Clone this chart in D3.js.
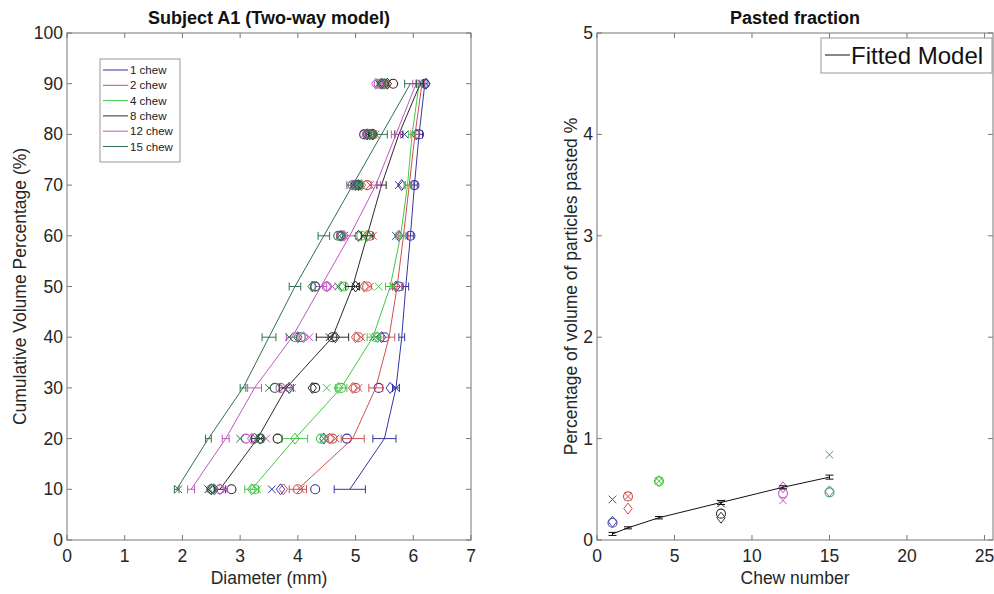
<!DOCTYPE html>
<html>
<head>
<meta charset="utf-8">
<script src="https://cdn.jsdelivr.net/npm/d3@7"></script>
<style>
  body { margin: 0; background: #fff; }
  svg { font-family: "Liberation Sans", Arial, sans-serif; }
</style>
</head>
<body>
<svg id="fig" width="994" height="594"></svg>
<script>
//------------------- data ----------------------------------------

var levels = [10, 20, 30, 40, 50, 60, 70, 80, 90];
var chewNames = ["1 chew", "2 chew", "4 chew", "8 chew", "12 chew", "15 chew"];
var chewColors = ["#3535a5", "#d05050", "#45c845", "#2a2a2a", "#c455c4", "#2f7050"];

// fitted diameters (mm) for each chew, one value per level
var model1 = [4.9, 5.5, 5.7, 5.8, 5.87, 5.95, 6.02, 6.1, 6.2];
var model2 = [4.0, 4.95, 5.35, 5.58, 5.72, 5.83, 5.93, 6.03, 6.15];
var model4 = [3.2, 3.95, 4.75, 5.3, 5.6, 5.78, 5.9, 5.98, 6.1];
var model8 = [2.65, 3.3, 3.8, 4.6, 4.95, 5.2, 5.45, 5.75, 6.12];
var model12 = [2.15, 2.75, 3.25, 3.9, 4.4, 4.9, 5.35, 5.7, 6.05];
var model15 = [1.9, 2.45, 3.05, 3.5, 3.95, 4.45, 4.95, 5.45, 5.95];

// half width of the error bars
var err1 = [0.27, 0.2, 0.06, 0.05, 0.05, 0.05, 0.05, 0.06, 0.04];
var err2 = [0.15, 0.2, 0.12, 0.1, 0.08, 0.08, 0.07, 0.07, 0.05];
var err4 = [0.12, 0.22, 0.1, 0.1, 0.08, 0.08, 0.06, 0.06, 0.05];
var err8 = [0.1, 0.1, 0.12, 0.28, 0.12, 0.1, 0.08, 0.07, 0.06];
var err12 = [0.06, 0.06, 0.12, 0.1, 0.1, 0.1, 0.08, 0.08, 0.06];
var err15 = [0.04, 0.05, 0.05, 0.12, 0.1, 0.1, 0.1, 0.1, 0.1];

// measured diameters, three markers (circle, cross, diamond)
var circ1 = [4.3, 4.85, 5.4, 5.5, 5.75, 5.95, 6.02, 6.1, 6.2];
var cross1 = [3.55, 4.45, 5.7, 5.35, 5.65, 5.7, 5.75, 5.85, 6.15];
var diam1 = [3.7, 4.45, 5.6, 5.45, 5.7, 5.75, 5.8, 6.05, 6.22];
var circ2 = [4.0, 4.6, 5.0, 5.05, 5.2, 5.25, 5.2, 5.3, 5.5];
var cross2 = [4.05, 4.65, 5.05, 5.1, 5.25, 5.3, 5.25, 5.35, 5.55];
var diam2 = [3.75, 4.55, 4.95, 5.0, 5.15, 5.2, 5.1, 5.25, 5.45];
var circ4 = [3.25, 4.4, 4.75, 5.35, 4.8, 5.1, 5.05, 5.2, 5.45];
var cross4 = [3.3, 4.45, 4.5, 5.3, 5.4, 5.15, 5.1, 5.25, 5.42];
var diam4 = [3.2, 3.95, 4.7, 5.38, 4.75, 5.2, 5.0, 5.2, 5.5];
var circ8 = [2.85, 3.65, 4.3, 4.6, 4.3, 4.75, 5.0, 5.15, 5.65];
var cross8 = [2.45, 3.35, 3.75, 4.55, 5.0, 4.8, 4.95, 5.2, 5.4];
var diam8 = [2.5, 3.35, 4.25, 4.65, 5.0, 5.05, 5.05, 5.3, 5.55];
var circ12 = [2.65, 3.1, 3.7, 3.95, 4.5, 4.75, 4.95, 5.2, 5.4];
var cross12 = [2.75, 3.45, 3.9, 4.2, 4.6, 4.8, 5.05, 5.15, 5.45];
var diam12 = [2.65, 3.2, 3.85, 4.1, 4.5, 4.8, 5.0, 5.2, 5.35];
var circ15 = [2.5, 3.35, 3.6, 4.05, 4.3, 4.7, 5.05, 5.25, 5.48];
var cross15 = [1.93, 3.0, 3.5, 3.85, 4.7, 4.72, 5.0, 5.3, 5.5];
var diam15 = [2.55, 3.25, 3.85, 4.0, 4.25, 4.75, 5.05, 5.2, 5.45];

// pasted fraction (%)
var chewNumbers = [1, 2, 4, 8, 12, 15];
var fitted = [0.06, 0.12, 0.22, 0.37, 0.52, 0.62];
var fittedErr = [0.015, 0.01, 0.012, 0.02, 0.015, 0.02];
var pastedCirc = [0.17, 0.43, 0.58, 0.26, 0.46, 0.47];
var pastedCross = [0.40, 0.43, 0.58, 0.36, 0.39, 0.84];
var pastedDiam = [0.18, 0.31, 0.58, 0.22, 0.52, 0.48];
var pastedColors = ["#4a4aa8", "#d05050", "#45c845", "#333333", "#c455c4", "#5a9a78"];

var xTicksLeft = [0, 1, 2, 3, 4, 5, 6, 7];
var yTicksLeft = [0, 10, 20, 30, 40, 50, 60, 70, 80, 90, 100];
var xTicksRight = [0, 5, 10, 15, 20, 25];
var yTicksRight = [0, 1, 2, 3, 4, 5];

var models = [model1, model2, model4, model8, model12, model15];
var errs = [err1, err2, err4, err8, err12, err15];
var circs = [circ1, circ2, circ4, circ8, circ12, circ15];
var crosses = [cross1, cross2, cross4, cross8, cross12, cross15];
var diams = [diam1, diam2, diam4, diam8, diam12, diam15];

//------------------- helpers ----------------------------------------

var svg = d3.select("#fig");

function marker(g, type, x, y, color) {
    if (type == "o") {
        g.append("circle").attr("cx", x).attr("cy", y).attr("r", 4.5)
            .attr("fill", "none").attr("stroke", color).attr("stroke-width", 1.1);
    } else if (type == "x") {
        var s = 3.8;
        g.append("path")
            .attr("d", "M" + (x - s) + "," + (y - s) + "L" + (x + s) + "," + (y + s) +
                "M" + (x - s) + "," + (y + s) + "L" + (x + s) + "," + (y - s))
            .attr("stroke", color).attr("stroke-width", 1).attr("fill", "none");
    } else {
        var d = 5.5, w = 4.2;
        g.append("path")
            .attr("d", "M" + x + "," + (y - d) + "L" + (x + w) + "," + y + "L" + x + "," + (y + d) + "L" + (x - w) + "," + y + "Z")
            .attr("stroke", color).attr("stroke-width", 1).attr("fill", "none");
    }
}

function drawFrame(x, y, xTicks, yTicks, xLabel, yLabel, title, yLabelX) {
    var g = svg.append("g");
    var x0 = x.range()[0], x1 = x.range()[1], y0 = y.range()[0], y1 = y.range()[1];
    var tl = 5;

    g.append("rect").attr("x", x0).attr("y", y1).attr("width", x1 - x0).attr("height", y0 - y1)
        .attr("fill", "none").attr("stroke", "#777").attr("stroke-width", 1);

    for (let t of xTicks) {
        let px = x(t);
        g.append("line").attr("x1", px).attr("x2", px).attr("y1", y0).attr("y2", y0 - tl).attr("stroke", "#777");
        g.append("line").attr("x1", px).attr("x2", px).attr("y1", y1).attr("y2", y1 + tl).attr("stroke", "#777");
        g.append("text").attr("x", px).attr("y", y0 + 22).attr("text-anchor", "middle")
            .attr("font-size", 17.5).attr("fill", "#262626").text(t);
    }
    for (let t of yTicks) {
        let py = y(t);
        g.append("line").attr("x1", x0).attr("x2", x0 + tl).attr("y1", py).attr("y2", py).attr("stroke", "#777");
        g.append("line").attr("x1", x1).attr("x2", x1 - tl).attr("y1", py).attr("y2", py).attr("stroke", "#777");
        g.append("text").attr("x", x0 - 4).attr("y", py + 6).attr("text-anchor", "end")
            .attr("font-size", 17.5).attr("fill", "#262626").text(t);
    }

    g.append("text").attr("x", (x0 + x1) / 2).attr("y", 584).attr("text-anchor", "middle")
        .attr("font-size", 17.5).attr("fill", "#262626").text(xLabel);
    g.append("text").attr("transform", "translate(" + yLabelX + "," + ((y0 + y1) / 2) + ") rotate(-90)")
        .attr("text-anchor", "middle").attr("font-size", 17.5).attr("fill", "#262626").text(yLabel);
    g.append("text").attr("x", (x0 + x1) / 2).attr("y", 24).attr("text-anchor", "middle")
        .attr("font-size", 18).attr("font-weight", "bold").attr("fill", "#111").text(title);
    return g;
}

//------------------- left plot : size distribution ----------------------------------------

var xL = d3.scaleLinear().domain([0, 7]).range([67, 471]);
var yL = d3.scaleLinear().domain([0, 100]).range([540, 33]);

var gL = drawFrame(xL, yL, xTicksLeft, yTicksLeft, "Diameter (mm)",
    "Cumulative Volume Percentage (%)", "Subject A1 (Two-way model)", 26);

var line = d3.line().x(d => xL(d[0])).y(d => yL(d[1]));

for (let c = 0; c < chewNames.length; c++) {
    let col = chewColors[c];
    let pts = models[c].map((v, i) => [v, levels[i]]);
    gL.append("path").attr("d", line(pts)).attr("fill", "none").attr("stroke", col).attr("stroke-width", 1);

    for (let i = 0; i < levels.length; i++) {
        let py = yL(levels[i]);
        let a = xL(models[c][i] - errs[c][i]), b = xL(models[c][i] + errs[c][i]);
        gL.append("path")
            .attr("d", "M" + a + "," + py + "L" + b + "," + py +
                "M" + a + "," + (py - 4) + "L" + a + "," + (py + 4) +
                "M" + b + "," + (py - 4) + "L" + b + "," + (py + 4))
            .attr("stroke", col).attr("stroke-width", 1).attr("fill", "none");
        marker(gL, "o", xL(circs[c][i]), py, col);
        marker(gL, "x", xL(crosses[c][i]), py, col);
        marker(gL, "d", xL(diams[c][i]), py, col);
    }
}

// legend
var leg = gL.append("g");
leg.append("rect").attr("x", 100).attr("y", 59).attr("width", 80).attr("height", 103)
    .attr("fill", "#fff").attr("stroke", "#999").attr("stroke-width", 1);
chewNames.forEach(function (n, i) {
    let ly = 70 + i * 15.3;
    leg.append("line").attr("x1", 103).attr("x2", 128).attr("y1", ly).attr("y2", ly)
        .attr("stroke", chewColors[i]).attr("stroke-width", 1);
    leg.append("text").attr("x", 130).attr("y", ly + 4).attr("font-size", 11.5)
        .attr("fill", "#222").text(n);
});

//------------------- right plot : pasted fraction ----------------------------------------

var xR = d3.scaleLinear().domain([0, 25.55]).range([597, 993]);
var yR = d3.scaleLinear().domain([0, 5]).range([540, 33]);

var gR = drawFrame(xR, yR, xTicksRight, yTicksRight, "Chew number",
    "Percentage of volume of particles pasted %", "Pasted fraction", 577);

for (let i = 0; i < chewNumbers.length; i++) {
    let px = xR(chewNumbers[i]);
    marker(gR, "o", px, yR(pastedCirc[i]), pastedColors[i]);
    marker(gR, "x", px, yR(pastedCross[i]), pastedColors[i]);
    marker(gR, "d", px, yR(pastedDiam[i]), pastedColors[i]);
}

var lineR = d3.line().x((d, i) => xR(chewNumbers[i])).y(d => yR(d));
gR.append("path").attr("d", lineR(fitted)).attr("fill", "none").attr("stroke", "#111").attr("stroke-width", 1);
for (let i = 0; i < chewNumbers.length; i++) {
    let px = xR(chewNumbers[i]);
    let a = yR(fitted[i] - fittedErr[i]), b = yR(fitted[i] + fittedErr[i]);
    gR.append("path")
        .attr("d", "M" + px + "," + a + "L" + px + "," + b +
            "M" + (px - 4) + "," + a + "L" + (px + 4) + "," + a +
            "M" + (px - 4) + "," + b + "L" + (px + 4) + "," + b)
        .attr("stroke", "#111").attr("stroke-width", 1).attr("fill", "none");
}

var legR = gR.append("g");
legR.append("rect").attr("x", 821).attr("y", 38).attr("width", 171).attr("height", 35)
    .attr("fill", "#fff").attr("stroke", "#999").attr("stroke-width", 1);
legR.append("line").attr("x1", 825).attr("x2", 850).attr("y1", 55).attr("y2", 55)
    .attr("stroke", "#111").attr("stroke-width", 1);
legR.append("text").attr("x", 851).attr("y", 64).attr("font-size", 24).attr("fill", "#111").text("Fitted Model");
</script>
</body>
</html>
